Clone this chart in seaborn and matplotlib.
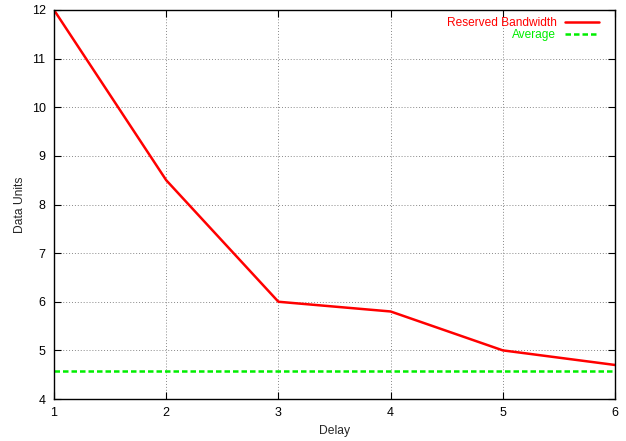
import matplotlib
matplotlib.use("Agg")
import matplotlib.pyplot as plt
import seaborn as sns
import pandas as pd

# ── Data ──────────────────────────────────────────────────────────────────────
delay     = [1, 2, 3, 4, 5, 6]
bandwidth = [12.0, 8.5, 6.0, 5.8, 5.0, 4.7]
average   = 4.58

df = pd.DataFrame({"Delay": delay, "Reserved Bandwidth": bandwidth})

sns.set_style("ticks")
plt.rcParams["font.family"] = ["Liberation Sans", "DejaVu Sans"]
plt.rcParams["font.size"] = 9

fig = plt.figure(figsize=(6.26, 4.41), dpi=100)
ax = fig.add_axes([54 / 626, 42 / 441, 561 / 626, 389 / 441])

sns.lineplot(data=df, x="Delay", y="Reserved Bandwidth", color="#ff0000",
             linewidth=1.8, ax=ax, label="Reserved Bandwidth")
ax.axhline(average, color="#00ee00", linewidth=1.8, linestyle=(0, (2.2, 1.2)),
           label="Average")

ax.set_xlim(1, 6)
ax.set_ylim(4, 12)
ax.set_xticks(delay)
ax.set_yticks(range(4, 13))
ax.set_xlabel("Delay", fontsize=8.7, labelpad=4)
ax.set_ylabel("Data Units", fontsize=8.7, labelpad=4)
ax.grid(True, color="#888888", linestyle=(0, (1, 2)), linewidth=0.7)
ax.tick_params(direction="in", top=True, right=True, labelsize=9,
               length=5, width=0.8, colors="black")
ax.tick_params(axis="y", pad=6)
ax.tick_params(axis="x", pad=6)
for s in ax.spines.values():
    s.set_visible(True)
    s.set_linewidth(1.0)
    s.set_color("black")

ax.legend(loc="upper right", frameon=False, markerfirst=False,
          labelcolor="linecolor", fontsize=8.6, handlelength=2.85,
          handletextpad=0.75, borderaxespad=0.2, labelspacing=0.0,
          bbox_to_anchor=(0.985, 1.0))

fig.savefig("out.png", dpi=100)
